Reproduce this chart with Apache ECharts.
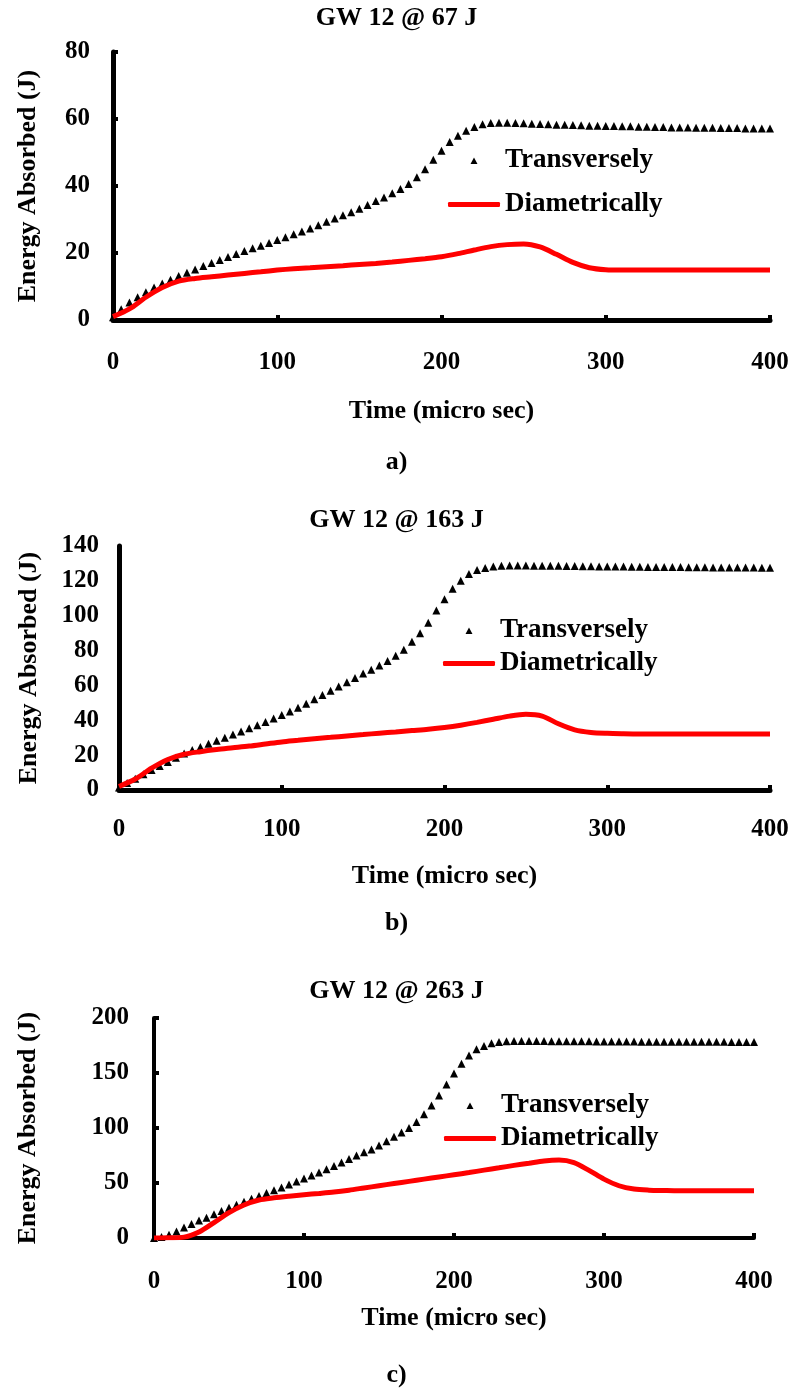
<!DOCTYPE html>
<html lang="en">
<head>
    <meta charset="UTF-8">
    <title>GW 12 energy absorbed</title>
    <script src="https://cdn.jsdelivr.net/npm/echarts@6/dist/echarts.min.js"></script>
    <style>
        html, body { margin: 0; padding: 0; background: #ffffff; }
        #chart { width: 793px; height: 1389px; }
    </style>
</head>
<body>
<div id="chart"></div>
<script>
    // time steps (micro sec)
    var timeTri = [0, 5, 10, 15, 20, 25, 30, 35, 40, 45, 50, 55, 60, 65, 70, 75, 80, 85, 90, 95,
        100, 105, 110, 115, 120, 125, 130, 135, 140, 145, 150, 155, 160, 165, 170, 175, 180, 185, 190, 195,
        200, 205, 210, 215, 220, 225, 230, 235, 240, 245, 250, 255, 260, 265, 270, 275, 280, 285, 290, 295,
        300, 305, 310, 315, 320, 325, 330, 335, 340, 345, 350, 355, 360, 365, 370, 375, 380, 385, 390, 395, 400];
    var timeLine = [0, 10, 20, 30, 40, 50, 60, 70, 80, 90, 100, 110, 120, 130, 140, 150, 160, 170, 180, 190,
        200, 210, 220, 230, 240, 250, 260, 270, 280, 290, 300, 310, 320, 330, 340, 350, 360, 370, 380, 390, 400];

    // a) 67 J
    var transA = [0.8, 3.2, 5.2, 6.8, 8.3, 9.7, 10.9, 12.0, 13.1, 14.1,
        15.1, 16.1, 17.0, 17.9, 18.8, 19.7, 20.6, 21.4, 22.2, 23.0,
        23.9, 24.7, 25.6, 26.4, 27.3, 28.3, 29.3, 30.3, 31.3, 32.2,
        33.2, 34.3, 35.5, 36.6, 37.8, 39.1, 40.6, 42.6, 45.0, 47.8,
        50.5, 53.1, 55.0, 56.5, 57.6, 58.4, 58.8, 58.9, 58.9, 58.8,
        58.7, 58.6, 58.5, 58.4, 58.3, 58.3, 58.2, 58.1, 58.0, 58.0,
        57.9, 57.9, 57.8, 57.8, 57.7, 57.7, 57.6, 57.6, 57.5, 57.5,
        57.5, 57.4, 57.4, 57.4, 57.3, 57.3, 57.3, 57.2, 57.2, 57.2, 57.2];
    var diamA = [1.0, 3.3, 6.8, 9.7, 11.6, 12.4, 12.9, 13.4, 13.9, 14.4,
        14.9, 15.3, 15.6, 15.9, 16.2, 16.6, 16.9, 17.3, 17.8, 18.3,
        18.9, 19.8, 20.9, 21.9, 22.5, 22.7, 21.8, 19.6, 17.2, 15.6,
        15.0, 14.9, 14.9, 14.9, 14.9, 14.9, 14.9, 14.9, 14.9, 14.9, 14.9];

    // b) 163 J
    var transB = [1.5, 4.0, 6.5, 9.0, 11.5, 13.8, 16.0, 18.5, 21.0, 23.0,
        24.7, 26.6, 28.2, 30.0, 31.8, 33.6, 35.4, 37.2, 39.0, 41.0,
        43.0, 45.0, 47.2, 49.5, 52.0, 54.5, 57.0, 59.4, 61.8, 64.3,
        66.8, 69.0, 71.5, 74.0, 77.0, 80.5, 85.0, 90.0, 96.0, 103.0,
        109.5, 115.5, 120.0, 124.0, 126.2, 127.4, 128.2, 128.7, 128.8, 128.8,
        128.8, 128.7, 128.7, 128.6, 128.6, 128.5, 128.5, 128.4, 128.4, 128.3,
        128.3, 128.2, 128.2, 128.1, 128.1, 128.0, 128.0, 127.9, 127.9, 127.9,
        127.8, 127.8, 127.8, 127.7, 127.7, 127.7, 127.6, 127.6, 127.6, 127.5, 127.5];
    var diamB = [2.0, 6.3, 12.5, 17.5, 20.5, 22.0, 23.2, 24.2, 25.2, 26.4,
        27.6, 28.5, 29.4, 30.2, 31.0, 31.8, 32.6, 33.3, 34.1, 34.9,
        35.9, 37.2, 38.8, 40.6, 42.4, 43.4, 42.4, 38.0, 34.5, 33.0,
        32.5, 32.3, 32.2, 32.2, 32.1, 32.1, 32.1, 32.1, 32.1, 32.1, 32.1];

    // c) 263 J
    var transC = [0.0, 1.0, 3.0, 6.0, 9.5, 12.7, 15.8, 18.5, 21.5, 24.5,
        27.5, 30.3, 33.0, 35.6, 38.2, 40.8, 43.3, 46.0, 48.7, 51.3,
        54.0, 56.8, 59.6, 62.5, 65.5, 68.6, 71.8, 75.0, 78.0, 80.5,
        84.0, 88.0, 92.0, 96.0, 100.0, 105.5, 112.5, 120.5, 129.5, 139.5,
        149.5, 158.5, 166.0, 171.5, 174.5, 177.0, 178.2, 178.8, 179.0, 179.0,
        179.0, 179.0, 179.0, 178.9, 178.9, 178.9, 178.8, 178.8, 178.8, 178.7,
        178.7, 178.7, 178.6, 178.6, 178.6, 178.5, 178.5, 178.5, 178.5, 178.4,
        178.4, 178.4, 178.4, 178.3, 178.3, 178.3, 178.3, 178.2, 178.2, 178.2, 178.2];
    var diamC = [0.0, 0.2, 0.8, 5.5, 14.0, 23.0, 30.0, 34.5, 36.5, 38.0,
        39.3, 40.5, 41.8, 43.5, 45.5, 47.5, 49.5, 51.5, 53.5, 55.5,
        57.5, 59.5, 61.7, 63.8, 66.0, 68.0, 70.0, 70.8, 68.5, 61.5,
        53.5, 47.5, 44.5, 43.5, 43.2, 43.0, 43.0, 43.0, 43.0, 43.0, 43.0];

    var titles = ['GW 12 @ 67 J', 'GW 12 @ 163 J', 'GW 12 @ 263 J'];
    var captions = ['a)', 'b)', 'c)'];
    var yMax = [80, 140, 200];
    var yStep = [20, 20, 50];

    var font = 'Liberation Serif';
    // small triangle in the middle of a 52 x 7 box (the two dots only stretch the box)
    var triIcon = 'path://M0,0 L0,0.01 M52,7 L52,6.99 M22.5,7 L26,0.5 L29.5,7 Z';

    function pairs(xs, ys) {
        var out = [];
        for (var i = 0; i < xs.length; i++) out.push([xs[i], ys[i]]);
        return out;
    }

    var trans = [transA, transB, transC];
    var diam = [diamA, diamB, diamC];

    // layout of each panel
    var grids = [
        {left: 113, top: 52, width: 657, height: 268},
        {left: 119, top: 546, width: 651, height: 244},
        {left: 154, top: 1018, width: 600, height: 220}
    ];
    var titleTop = [5, 507, 978];
    var captionTop = [449, 910, 1362];
    var legendLeft = [448, 443, 444];
    var legendTop = [[147, 191], [617, 650], [1092, 1125]];
    var yLabelMargin = [23, 20, 25];
    var xLabelMargin = [30, 27, 31];
    var xNameGap = [78, 73, 67];
    var yNameGap = [72, 77, 113];

    var option = {
        backgroundColor: '#ffffff',
        animation: false,
        title: [],
        legend: [],
        grid: [],
        xAxis: [],
        yAxis: [],
        series: []
    };

    for (var k = 0; k < 3; k++) {
        option.title.push({
            text: titles[k], left: 'center', top: titleTop[k], padding: 0,
            textStyle: {fontFamily: font, fontWeight: 'bold', fontSize: 26, color: '#000'}
        });
        option.title.push({
            text: captions[k], left: 'center', top: captionTop[k], padding: 0,
            textStyle: {fontFamily: font, fontWeight: 'bold', fontSize: 26, color: '#000'}
        });
        option.legend.push({
            left: legendLeft[k], top: legendTop[k][0], padding: 0,
            itemWidth: 52, itemHeight: 7, symbolKeepAspect: false,
            data: [{name: 'Transversely', icon: triIcon}],
            textStyle: {fontFamily: font, fontWeight: 'bold', fontSize: 27, color: '#000'}
        });
        option.legend.push({
            left: legendLeft[k], top: legendTop[k][1], padding: 0,
            itemWidth: 52, itemHeight: 5,
            data: [{name: 'Diametrically', icon: 'roundRect'}],
            textStyle: {fontFamily: font, fontWeight: 'bold', fontSize: 27, color: '#000'}
        });
        option.grid.push(grids[k]);
        option.xAxis.push({
            type: 'value', gridIndex: k, min: 0, max: 400, interval: 100,
            name: 'Time (micro sec)', nameLocation: 'middle', nameGap: xNameGap[k],
            nameTextStyle: {fontFamily: font, fontWeight: 'bold', fontSize: 26, color: '#000'},
            axisLine: {lineStyle: {color: '#000', width: k === 2 ? 4 : 5}},
            axisTick: {show: true, inside: true, length: 5, lineStyle: {color: '#000', width: 4}},
            axisLabel: {margin: xLabelMargin[k], fontFamily: font, fontWeight: 'bold', fontSize: 25, color: '#000'},
            splitLine: {show: false}
        });
        option.yAxis.push({
            type: 'value', gridIndex: k, min: 0, max: yMax[k], interval: yStep[k],
            name: 'Energy Absorbed (J)', nameLocation: 'middle', nameGap: yNameGap[k],
            nameTextStyle: {fontFamily: font, fontWeight: 'bold', fontSize: 26, color: '#000'},
            axisLine: {show: true, lineStyle: {color: '#000', width: k === 2 ? 4 : 5}},
            axisTick: {show: k !== 1, inside: true, length: 5, lineStyle: {color: '#000', width: 4}},
            axisLabel: {margin: yLabelMargin[k], fontFamily: font, fontWeight: 'bold', fontSize: 25, color: '#000'},
            splitLine: {show: false}
        });
        option.series.push({
            name: 'Transversely', type: 'scatter', xAxisIndex: k, yAxisIndex: k,
            symbol: 'triangle', symbolSize: 8,
            itemStyle: {color: '#000000', opacity: 1},
            data: pairs(timeTri, trans[k])
        });
        option.series.push({
            name: 'Diametrically', type: 'line', xAxisIndex: k, yAxisIndex: k,
            smooth: 0.3, showSymbol: false, symbol: 'none',
            itemStyle: {color: '#ff0000'},
            lineStyle: {color: '#ff0000', width: 5},
            data: pairs(timeLine, diam[k])
        });
    }

    var myChart = echarts.init(document.getElementById('chart'));
    myChart.setOption(option);
</script>
</body>
</html>
